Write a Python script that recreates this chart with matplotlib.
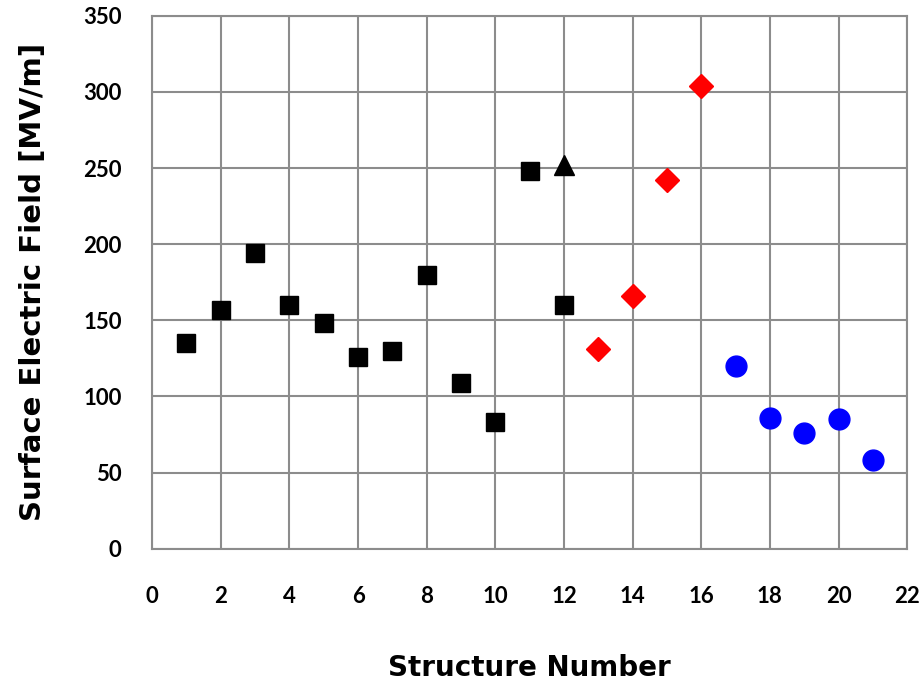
import numpy as np
import matplotlib.pyplot as plt

# black squares: structures 1-12
sq_x = [1, 2, 3, 4, 5, 6, 7, 8, 9, 10, 11, 12]
sq_y = [135, 157, 194, 160, 148, 126, 130, 180, 109, 83, 248, 160]

# black triangle
tri_x = [12]
tri_y = [252]

# red diamonds
dia_x = [13, 14, 15, 16]
dia_y = [131, 166, 242, 304]

# blue circles
cir_x = [17, 18, 19, 20, 21]
cir_y = [120, 86, 76, 85, 58]

xticks = np.arange(0, 23, 2)
yticks = np.arange(0, 351, 50)

fig = plt.figure(figsize=(9.22, 6.85), dpi=100)
ax = fig.add_axes([0.165, 0.199, 0.819, 0.778])

ax.plot(sq_x, sq_y, 's', color='black', markersize=13, linestyle='none')
ax.plot(tri_x, tri_y, '^', color='black', markersize=15, linestyle='none')
ax.plot(dia_x, dia_y, 'D', color='red', markersize=12, linestyle='none')
ax.plot(cir_x, cir_y, 'o', color='blue', markersize=15, linestyle='none')

ax.set_xlim(0, 22)
ax.set_ylim(0, 350)
ax.set_xticks(xticks)
ax.set_yticks(yticks)
ax.grid(True, color='#8c8c8c', linewidth=1.5)
ax.set_axisbelow(True)
for s in ax.spines.values():
    s.set_color('#8c8c8c')
    s.set_linewidth(1.5)

tick_font = ['Lato', 'DejaVu Sans']
ax.tick_params(axis='both', length=0)
ax.tick_params(axis='y', pad=22)
ax.tick_params(axis='x', pad=27)
for lab in ax.get_xticklabels() + ax.get_yticklabels():
    lab.set_fontfamily(tick_font)
    lab.set_fontsize(16)
    lab.set_fontweight('bold')

ax.set_xlabel('Structure Number', fontsize=20, fontweight='bold', labelpad=34)
ax.set_ylabel('Surface Electric Field [MV/m]', fontsize=21, fontweight='bold', labelpad=26)

fig.savefig('out.png', dpi=100)
